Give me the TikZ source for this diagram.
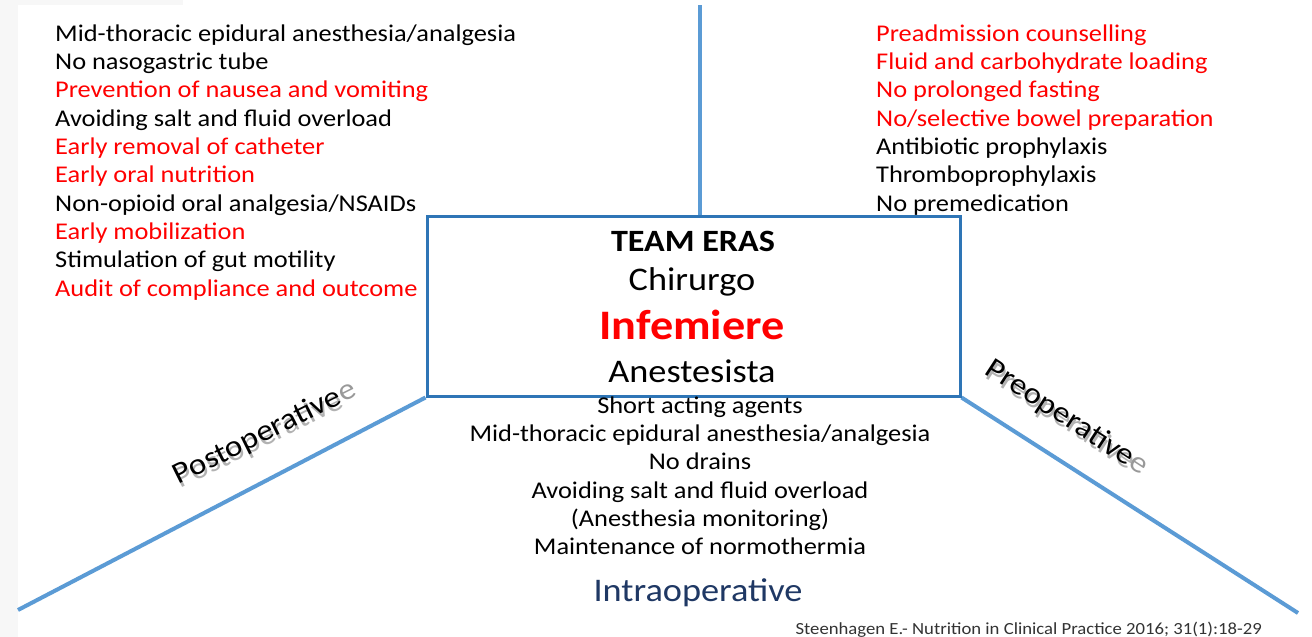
\documentclass[tikz,border=0pt]{standalone}
\usepackage{fontspec}
\setmainfont{Carlito}[FakeStretch=1.1]
\definecolor{linkblue}{HTML}{5B9BD5}
\definecolor{boxblue}{HTML}{2E75B6}
\definecolor{navy}{HTML}{1F3864}
\definecolor{ered}{HTML}{FF0000}
\begin{document}
\begin{tikzpicture}[x=1pt,y=-1pt,
  item/.style={anchor=base west, inner sep=0pt, font=\fontsize{24}{28}\selectfont},
  citem/.style={anchor=base, inner sep=0pt, font=\fontsize{24}{28}\selectfont},
  hi/.style={text=ered},
  branch/.style={draw=linkblue, line width=4pt},
  phase/.style={inner sep=0pt, font=\fontsize{30}{34}\selectfont},
  ghost/.style={text=black!30},
  teambox/.style={draw=boxblue, line width=3pt, fill=white, minimum width=533pt, minimum height=180pt, inner sep=0pt}
]
\useasboundingbox (0,0) rectangle (1312,637);
\fill[white] (0,0) rectangle (1312,637);
\fill[black!3] (0,0) rectangle (18,637);
\fill[black!3] (0,0) rectangle (183,5);

% connectors
\coordinate (top) at (700,5);
\coordinate (lend) at (18,610);
\coordinate (rend) at (1298,613);
\node[teambox] (team) at (693.5,306) {};
\draw[branch] (top) -- (team.north -| top);
\draw[branch] (team.south west) -- (lend);
\draw[branch] (team.south east) -- (rend);
\node[teambox] (team2) at (693.5,306) {};

% box text
\node[inner sep=0pt, anchor=base, font=\bfseries\fontsize{31}{34}\selectfont] (t1) at (693,251) {TEAM ERAS};
\node[inner sep=0pt, anchor=base, font=\fontsize{33}{36}\selectfont] (t2) at (692,290) {Chirurgo};
\node[inner sep=0pt, anchor=base, text=ered, font=\bfseries\fontsize{42}{46}\selectfont] (t3) at (692,339) {Infemiere};
\node[inner sep=0pt, anchor=base, font=\fontsize{33}{36}\selectfont] (t4) at (692,382) {Anestesista};

% postoperative list
\node[item] (p1) at (55,41) {Mid-thoracic epidural anesthesia/analgesia};
\node[item] (p2) at (55,69.3) {No nasogastric tube};
\node[item,hi] (p3) at (55,97.7) {Prevention of nausea and vomiting};
\node[item] (p4) at (55,126) {Avoiding salt and fluid overload};
\node[item,hi] (p5) at (55,154.3) {Early removal of catheter};
\node[item,hi] (p6) at (55,182.7) {Early oral nutrition};
\node[item] (p7) at (55,211) {Non-opioid oral analgesia/NSAIDs};
\node[item,hi] (p8) at (55,239.3) {Early mobilization};
\node[item] (p9) at (55,267.7) {Stimulation of gut motility};
\node[item,hi] (p10) at (55,296) {Audit of compliance and outcome};

% preoperative list
\node[item,hi] (r1) at (876,41) {Preadmission counselling};
\node[item,hi] (r2) at (876,69.3) {Fluid and carbohydrate loading};
\node[item,hi] (r3) at (876,97.7) {No prolonged fasting};
\node[item,hi] (r4) at (876,126) {No/selective bowel preparation};
\node[item] (r5) at (876,154.3) {Antibiotic prophylaxis};
\node[item] (r6) at (876,182.7) {Thromboprophylaxis};
\node[item] (r7) at (876,211) {No premedication};

% intraoperative list
\node[citem] (i1) at (700,413) {Short acting agents};
\node[citem] (i2) at (700,441.3) {Mid-thoracic epidural anesthesia/analgesia};
\node[citem] (i3) at (700,469.7) {No drains};
\node[citem] (i4) at (700,498) {Avoiding salt and fluid overload};
\node[citem] (i5) at (700,526.3) {(Anesthesia monitoring)};
\node[citem] (i6) at (700,554.7) {Maintenance of normothermia};

\node[inner sep=0pt, anchor=base, text=navy, font=\fontsize{33}{36}\selectfont] (intra) at (698,601) {Intraoperative};

% phase labels with shadow
\node[phase, ghost, rotate=26.5] (postsh) at (267,437) {Postoperative\phantom{e}};
\node[phase, rotate=26.5] (post) at (265,433) {Postoperative{\color{black!40}e}};
\node[phase, ghost, rotate=-33] (presh) at (1068,422) {Preoperative\phantom{e}};
\node[phase, rotate=-33] (pre) at (1067,418) {Preoperative{\color{black!40}e}};

\node[inner sep=0pt, anchor=base east, text=black!80, font=\fontsize{17}{19}\selectfont] (cite) at (1262,634) {Steenhagen E.- Nutrition in Clinical Practice 2016; 31(1):18-29};
\end{tikzpicture}
\end{document}
